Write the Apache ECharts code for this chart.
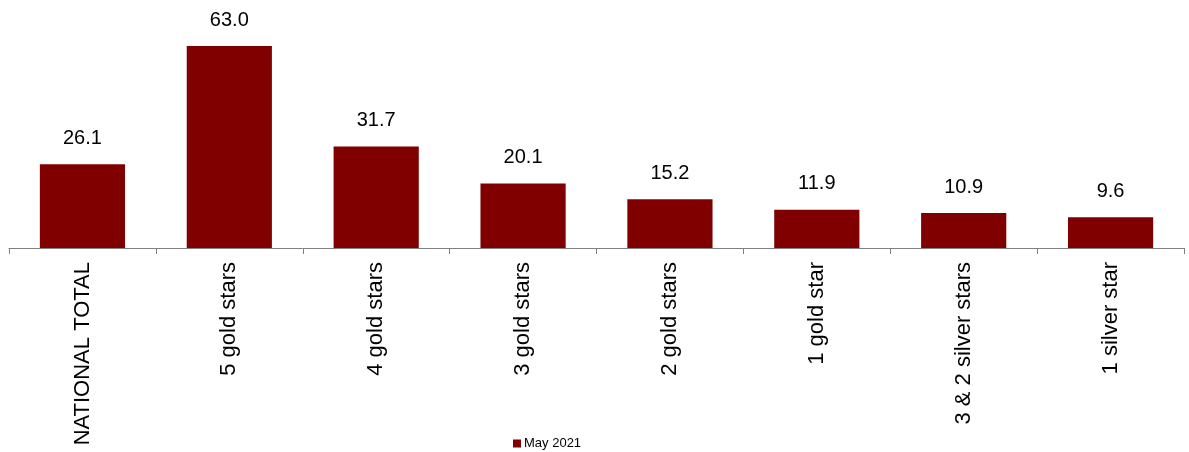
<!DOCTYPE html>
<html><head><meta charset="utf-8">
<script src="https://cdn.jsdelivr.net/npm/echarts@6/dist/echarts.min.js"></script>
<style>html,body{margin:0;padding:0;background:#fff}#c{width:1189px;height:452px}</style>
</head><body><div id="c"></div>
<script>
var categories = ['NATIONAL TOTAL','5 gold stars','4 gold stars','3 gold stars','2 gold stars','1 gold star','3 & 2 silver stars','1 silver star'];
var values = [26.1, 63.0, 31.7, 20.1, 15.2, 11.9, 10.9, 9.6];
var seriesName = 'May 2021';
var chart = echarts.init(document.getElementById('c'));
chart.setOption({
  animation: false,
  grid: {left: 9, right: 5, top: 23.6, bottom: 204},
  legend: {top: 432, left: 508, itemWidth: 8, itemHeight: 8, itemGap: 3, icon: 'rect',
    textStyle: {fontFamily: 'Liberation Sans, Arial', fontSize: 13, color: '#000', padding: [0,0,0,-2]}, data: [seriesName]},
  xAxis: {type: 'category', data: categories,
    axisLine: {lineStyle: {color: '#808080', width: 1}},
    axisTick: {show: true, alignWithLabel: false, length: 6, lineStyle: {color: '#808080'}},
    axisLabel: {rotate: 90, margin: 14, interval: 0, fontFamily: 'Liberation Sans, Arial', fontSize: 22, color: '#000'}},
  yAxis: {type: 'value', min: 0, max: 70, show: false, splitLine: {show: false}},
  series: [{name: seriesName, type: 'bar', data: values, barWidth: '58%',
    itemStyle: {color: '#800000'},
    label: {show: true, position: 'top', distance: 16, formatter: function(p){return p.value.toFixed(1);},
      fontFamily: 'Liberation Sans, Arial', fontSize: 20, color: '#000'}}]
});
</script></body></html>
